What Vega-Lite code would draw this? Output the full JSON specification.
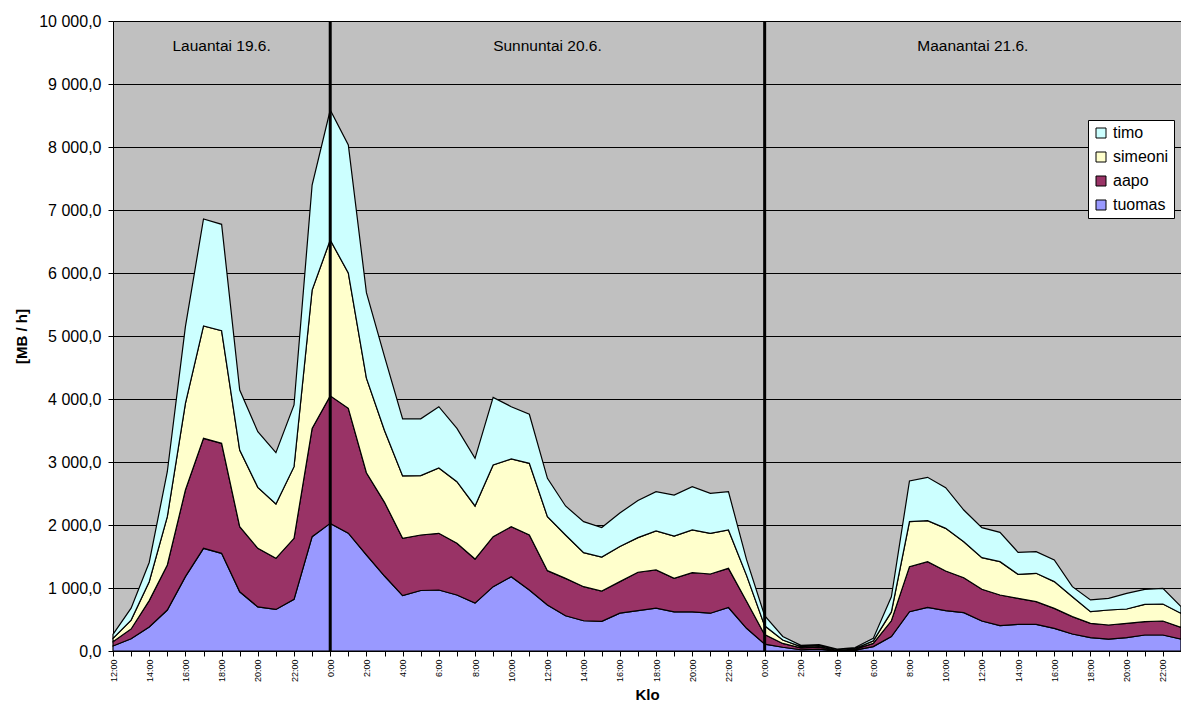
{
  "$schema": "https://vega.github.io/schema/vega-lite/v6.json",
  "width": 1068,
  "height": 630,
  "autosize": {"type": "none"},
  "padding": {"left": 113, "top": 21, "right": 0, "bottom": 51},
  "background": "white",
  "config": {
    "view": {"fill": "#C0C0C0", "stroke": null},
    "font": "Liberation Sans"
  },
  "datasets": {
    "sarjat": [
      {"nimi": "tuomas", "nro": 1},
      {"nimi": "aapo", "nro": 2},
      {"nimi": "simeoni", "nro": 3},
      {"nimi": "timo", "nro": 4}
    ],
    "paivanvaihdot": [
      {"aika": "2010-06-20T00:00"},
      {"aika": "2010-06-21T00:00"}
    ],
    "paivat": [
      {"aika": "2010-06-19T18:00", "paiva": "Lauantai 19.6."},
      {"aika": "2010-06-20T12:00", "paiva": "Sunnuntai 20.6."},
      {"aika": "2010-06-21T11:30", "paiva": "Maanantai 21.6."}
    ],
    "mittaukset": [
      {"aika": "2010-06-19T12:00", "tuomas": 80, "aapo": 68, "simeoni": 53, "timo": 64},
      {"aika": "2010-06-19T13:00", "tuomas": 195, "aapo": 155, "simeoni": 140, "timo": 190},
      {"aika": "2010-06-19T14:00", "tuomas": 380, "aapo": 420, "simeoni": 300, "timo": 305},
      {"aika": "2010-06-19T15:00", "tuomas": 650, "aapo": 715, "simeoni": 767, "timo": 714},
      {"aika": "2010-06-19T16:00", "tuomas": 1180, "aapo": 1375, "simeoni": 1376, "timo": 1217},
      {"aika": "2010-06-19T17:00", "tuomas": 1630, "aapo": 1746, "simeoni": 1783, "timo": 1698},
      {"aika": "2010-06-19T18:00", "tuomas": 1550, "aapo": 1746, "simeoni": 1789, "timo": 1688},
      {"aika": "2010-06-19T19:00", "tuomas": 940, "aapo": 1033, "simeoni": 1217, "timo": 953},
      {"aika": "2010-06-19T20:00", "tuomas": 700, "aapo": 930, "simeoni": 968, "timo": 883},
      {"aika": "2010-06-19T21:00", "tuomas": 660, "aapo": 811, "simeoni": 862, "timo": 815},
      {"aika": "2010-06-19T22:00", "tuomas": 820, "aapo": 969, "simeoni": 1137, "timo": 979},
      {"aika": "2010-06-19T23:00", "tuomas": 1815, "aapo": 1719, "simeoni": 2196, "timo": 1667},
      {"aika": "2010-06-20T00:00", "tuomas": 2026, "aapo": 2024, "simeoni": 2474, "timo": 2063},
      {"aika": "2010-06-20T01:00", "tuomas": 1870, "aapo": 1982, "simeoni": 2148, "timo": 2032},
      {"aika": "2010-06-20T02:00", "tuomas": 1524, "aapo": 1306, "simeoni": 1500, "timo": 1358},
      {"aika": "2010-06-20T03:00", "tuomas": 1190, "aapo": 1170, "simeoni": 1140, "timo": 1172},
      {"aika": "2010-06-20T04:00", "tuomas": 880, "aapo": 909, "simeoni": 991, "timo": 905},
      {"aika": "2010-06-20T05:00", "tuomas": 960, "aapo": 881, "simeoni": 944, "timo": 900},
      {"aika": "2010-06-20T06:00", "tuomas": 968, "aapo": 900, "simeoni": 1037, "timo": 973},
      {"aika": "2010-06-20T07:00", "tuomas": 889, "aapo": 820, "simeoni": 979, "timo": 846},
      {"aika": "2010-06-20T08:00", "tuomas": 760, "aapo": 700, "simeoni": 842, "timo": 756},
      {"aika": "2010-06-20T09:00", "tuomas": 1021, "aapo": 794, "simeoni": 1137, "timo": 1074},
      {"aika": "2010-06-20T10:00", "tuomas": 1180, "aapo": 793, "simeoni": 1075, "timo": 830},
      {"aika": "2010-06-20T11:00", "tuomas": 968, "aapo": 873, "simeoni": 1138, "timo": 778},
      {"aika": "2010-06-20T12:00", "tuomas": 730, "aapo": 545, "simeoni": 857, "timo": 609},
      {"aika": "2010-06-20T13:00", "tuomas": 560, "aapo": 593, "simeoni": 688, "timo": 461},
      {"aika": "2010-06-20T14:00", "tuomas": 480, "aapo": 541, "simeoni": 540, "timo": 492},
      {"aika": "2010-06-20T15:00", "tuomas": 470, "aapo": 480, "simeoni": 540, "timo": 470},
      {"aika": "2010-06-20T16:00", "tuomas": 600, "aapo": 501, "simeoni": 559, "timo": 530},
      {"aika": "2010-06-20T17:00", "tuomas": 640, "aapo": 610, "simeoni": 550, "timo": 590},
      {"aika": "2010-06-20T18:00", "tuomas": 680, "aapo": 606, "simeoni": 619, "timo": 624},
      {"aika": "2010-06-20T19:00", "tuomas": 620, "aapo": 533, "simeoni": 672, "timo": 651},
      {"aika": "2010-06-20T20:00", "tuomas": 620, "aapo": 623, "simeoni": 678, "timo": 687},
      {"aika": "2010-06-20T21:00", "tuomas": 600, "aapo": 622, "simeoni": 646, "timo": 635},
      {"aika": "2010-06-20T22:00", "tuomas": 690, "aapo": 622, "simeoni": 609, "timo": 608},
      {"aika": "2010-06-20T23:00", "tuomas": 360, "aapo": 430, "simeoni": 410, "timo": 250},
      {"aika": "2010-06-21T00:00", "tuomas": 110, "aapo": 150, "simeoni": 140, "timo": 160},
      {"aika": "2010-06-21T01:00", "tuomas": 60, "aapo": 60, "simeoni": 55, "timo": 55},
      {"aika": "2010-06-21T02:00", "tuomas": 20, "aapo": 30, "simeoni": 20, "timo": 20},
      {"aika": "2010-06-21T03:00", "tuomas": 30, "aapo": 30, "simeoni": 25, "timo": 15},
      {"aika": "2010-06-21T04:00", "tuomas": 5, "aapo": 10, "simeoni": 5, "timo": 10},
      {"aika": "2010-06-21T05:00", "tuomas": 15, "aapo": 15, "simeoni": 10, "timo": 15},
      {"aika": "2010-06-21T06:00", "tuomas": 70, "aapo": 50, "simeoni": 40, "timo": 40},
      {"aika": "2010-06-21T07:00", "tuomas": 230, "aapo": 250, "simeoni": 140, "timo": 240},
      {"aika": "2010-06-21T08:00", "tuomas": 624, "aapo": 715, "simeoni": 714, "timo": 645},
      {"aika": "2010-06-21T09:00", "tuomas": 693, "aapo": 725, "simeoni": 651, "timo": 688},
      {"aika": "2010-06-21T10:00", "tuomas": 640, "aapo": 630, "simeoni": 677, "timo": 646},
      {"aika": "2010-06-21T11:00", "tuomas": 608, "aapo": 556, "simeoni": 571, "timo": 503},
      {"aika": "2010-06-21T12:00", "tuomas": 476, "aapo": 503, "simeoni": 502, "timo": 477},
      {"aika": "2010-06-21T13:00", "tuomas": 402, "aapo": 487, "simeoni": 529, "timo": 466},
      {"aika": "2010-06-21T14:00", "tuomas": 423, "aapo": 413, "simeoni": 381, "timo": 349},
      {"aika": "2010-06-21T15:00", "tuomas": 423, "aapo": 360, "simeoni": 450, "timo": 344},
      {"aika": "2010-06-21T16:00", "tuomas": 360, "aapo": 317, "simeoni": 424, "timo": 343},
      {"aika": "2010-06-21T17:00", "tuomas": 270, "aapo": 275, "simeoni": 317, "timo": 159},
      {"aika": "2010-06-21T18:00", "tuomas": 212, "aapo": 227, "simeoni": 185, "timo": 186},
      {"aika": "2010-06-21T19:00", "tuomas": 190, "aapo": 223, "simeoni": 238, "timo": 185},
      {"aika": "2010-06-21T20:00", "tuomas": 212, "aapo": 227, "simeoni": 228, "timo": 248},
      {"aika": "2010-06-21T21:00", "tuomas": 254, "aapo": 212, "simeoni": 275, "timo": 238},
      {"aika": "2010-06-21T22:00", "tuomas": 254, "aapo": 222, "simeoni": 270, "timo": 249},
      {"aika": "2010-06-21T23:00", "tuomas": 190, "aapo": 186, "simeoni": 222, "timo": 106}
    ]
  },
  "layer": [
    {
      "data": {"name": "mittaukset"},
      "transform": [
        {"fold": ["tuomas", "aapo", "simeoni", "timo"], "as": ["nimi", "arvo"]},
        {"lookup": "nimi", "from": {"data": {"name": "sarjat"}, "key": "nimi", "fields": ["nro"]}}
      ],
      "mark": {"type": "area", "stroke": "black", "strokeWidth": 1.2, "interpolate": "linear", "opacity": 1},
      "encoding": {
        "x": {
          "field": "aika",
          "type": "temporal",
          "scale": {"nice": false},
          "axis": {
            "title": "Klo",
            "titleFontSize": 15,
            "titleFontWeight": "bold",
            "titleColor": "black",
            "titlePadding": 6,
            "tickCount": 59,
            "labelExpr": "hours(datum.value) % 2 == 0 ? timeFormat(datum.value, '%-H:%M') : ''",
            "labelAngle": 270,
            "labelAlign": "right",
            "labelBaseline": "middle",
            "labelFontSize": 9,
            "labelColor": "black",
            "labelOverlap": false,
            "labelFlush": false,
            "labelPadding": 3,
            "tickSize": 5,
            "tickColor": "black",
            "domainColor": "black",
            "grid": false
          }
        },
        "y": {
          "field": "arvo",
          "type": "quantitative",
          "stack": "zero",
          "scale": {"domain": [0, 10000], "nice": false},
          "axis": {
            "title": "[MB / h]",
            "titleFontSize": 15,
            "titleFontWeight": "bold",
            "titleColor": "black",
            "titlePadding": 9,
            "values": [0, 1000, 2000, 3000, 4000, 5000, 6000, 7000, 8000, 9000, 10000],
            "labelExpr": "replace(replace(format(datum.value, ',.1f'), ',', ' '), '.', ',')",
            "labelFontSize": 16,
            "labelColor": "black",
            "labelPadding": 7,
            "tickSize": 5,
            "tickColor": "black",
            "domainColor": "black",
            "grid": true,
            "gridColor": "#000000",
            "gridWidth": 1
          }
        },
        "color": {
          "field": "nimi",
          "type": "nominal",
          "scale": {
            "domain": ["timo", "simeoni", "aapo", "tuomas"],
            "range": ["#CCFFFF", "#FFFFCC", "#993366", "#9999FF"]
          },
          "legend": {
            "title": null,
            "orient": "none",
            "legendX": 975,
            "legendY": 99,
            "fillColor": "white",
            "strokeColor": "black",
            "padding": 5,
            "labelFontSize": 16,
            "labelColor": "black",
            "labelOffset": 4,
            "symbolType": "square",
            "symbolSize": 100,
            "symbolStrokeColor": "black",
            "symbolStrokeWidth": 1,
            "symbolOpacity": 1,
            "rowPadding": 8
          }
        },
        "order": {"field": "nro", "type": "quantitative"}
      }
    },
    {
      "data": {"name": "paivanvaihdot"},
      "mark": {"type": "rule", "color": "black", "strokeWidth": 3},
      "encoding": {
        "x": {"field": "aika", "type": "temporal"}
      }
    },
    {
      "data": {"name": "paivat"},
      "mark": {"type": "text", "fontSize": 15.5, "font": "Liberation Sans", "color": "black"},
      "encoding": {
        "x": {"field": "aika", "type": "temporal"},
        "y": {"datum": 9600},
        "text": {"field": "paiva"}
      }
    }
  ]
}
